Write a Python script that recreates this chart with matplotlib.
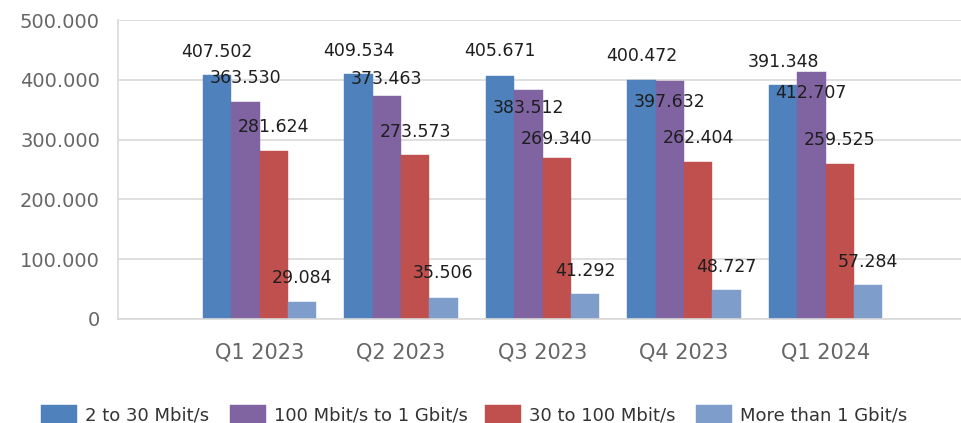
import matplotlib
matplotlib.use("Agg")
import matplotlib.pyplot as plt
import numpy as np
from matplotlib.ticker import FuncFormatter, MultipleLocator

categories = ["Q1 2023", "Q2 2023", "Q3 2023", "Q4 2023", "Q1 2024"]
series_names = ["2 to 30 Mbit/s", "100 Mbit/s to 1 Gbit/s", "30 to 100 Mbit/s", "More than 1 Gbit/s"]
s_2_30 = [407502, 409534, 405671, 400472, 391348]
s_100_1g = [363530, 373463, 383512, 397632, 412707]
s_30_100 = [281624, 273573, 269340, 262404, 259525]
s_1g_plus = [29084, 35506, 41292, 48727, 57284]
colors = ["#4F81BD", "#8064A2", "#C0504D", "#7F9DCB"]

# vertical offset of each data label from its bar top, in pixels (as placed in the reference)
label_dy_px = [
    [23, 23, 25, 24, 23],
    [24, 17, -18, -21, -21],
    [24, 23, 19, 24, 24],
    [24, 25, 23, 23, 23],
]

W, H = 962, 423
fig = plt.figure(figsize=(W / 100, H / 100), dpi=100)
ax = fig.add_axes([118 / W, 1 - 319 / H, 849 / W, 299 / H])

x = np.arange(1, len(categories) + 1)
bw = 0.2
offsets = [-0.3, -0.1, 0.1, 0.3]
all_series = [s_2_30, s_100_1g, s_30_100, s_1g_plus]
containers = []
for vals, off, col, name in zip(all_series, offsets, colors, series_names):
    c = ax.bar(x + off, vals, width=bw, color=col, edgecolor=col, linewidth=0.3, label=name, zorder=2)
    containers.append(c)

def fmt(v):
    return f"{int(v):,}".replace(",", ".")

for vals, off, dys in zip(all_series, offsets, label_dy_px):
    for xi, v, dy in zip(x, vals, dys):
        ax.annotate(fmt(v), xy=(xi + off, v), xytext=(0, dy * 0.72), textcoords="offset points",
                    ha="center", va="center", fontsize=12.5, color="#1e1e1e", zorder=5)

ax.set_xlim(0, 6)
ax.set_ylim(0, 500000)
ax.yaxis.set_major_locator(MultipleLocator(100000))
ax.yaxis.set_major_formatter(FuncFormatter(lambda v, p: fmt(v)))
ax.set_xticks(x)
ax.set_xticklabels(categories)
ax.grid(axis="y", color="#D9D9D9", linewidth=1.2, zorder=0)
ax.set_axisbelow(True)
for s in ["top", "right"]:
    ax.spines[s].set_visible(False)
for s in ["left", "bottom"]:
    ax.spines[s].set_color("#D9D9D9")
    ax.spines[s].set_linewidth(1.2)
ax.tick_params(axis="y", length=0, pad=13, labelsize=14, labelcolor="#666666")
ax.tick_params(axis="x", length=0, pad=17, labelsize=15, labelcolor="#666666")

legend_x = [41, 230, 485, 696]
for c, name, lx in zip(containers, series_names, legend_x):
    fig.legend([c], [name], loc="upper left", bbox_to_anchor=(lx / W, 1 - 405 / H),
               frameon=False, borderpad=0, borderaxespad=0, handlelength=2.0,
               handleheight=1.2, handletextpad=0.45, fontsize=13, labelcolor="#333333")

fig.savefig("out.png", dpi=100)
